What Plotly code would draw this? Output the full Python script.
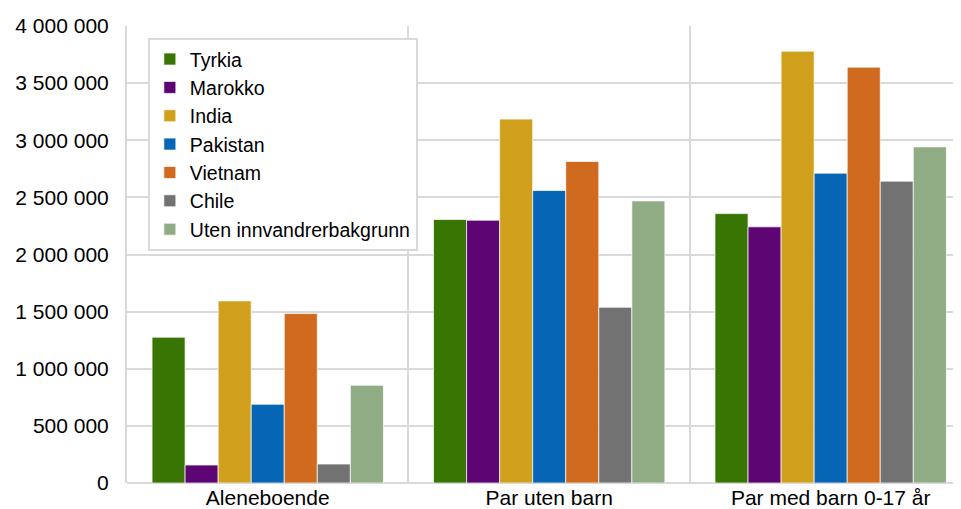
import plotly.graph_objects as go

categories = ["Aleneboende", "Par uten barn", "Par med barn 0-17 år"]
series_names = ["Tyrkia", "Marokko", "India", "Pakistan", "Vietnam", "Chile", "Uten innvandrerbakgrunn"]
tyrkia = [1276000, 2306000, 2358000]
marokko = [157000, 2300000, 2242000]
india = [1594000, 3185000, 3780000]
pakistan = [689000, 2560000, 2712000]
vietnam = [1483000, 2814000, 3640000]
chile = [166000, 1538000, 2642000]
uten = [855000, 2469000, 2942000]
values = [tyrkia, marokko, india, pakistan, vietnam, chile, uten]
colors = ["#387503", "#5c0573", "#d0a01c", "#0666b5", "#d06a1f", "#727272", "#8fac84"]
y_ticks = [0, 500000, 1000000, 1500000, 2000000, 2500000, 3000000, 3500000, 4000000]

fig = go.Figure()
for name, vals, col in zip(series_names, values, colors):
    fig.add_trace(go.Bar(
        x=categories, y=vals, name=name,
        marker=dict(color=col, line=dict(color="rgba(255,255,255,0.7)", width=1)),
    ))

font_family = "Liberation Sans, Arial, sans-serif"
# page body has an 8px default margin, so the figure is sized/offset to compensate
fig.update_layout(
    width=953, height=501,
    margin=dict(l=119, r=0, t=18, b=26),
    paper_bgcolor="white", plot_bgcolor="white",
    barmode="group", bargap=0.178, bargroupgap=0,
    separators=", ",
    font=dict(family=font_family, size=21, color="#000000"),
    legend=dict(
        x=0.025, y=0.974, xanchor="left", yanchor="top",
        bgcolor="white", bordercolor="#d9d9d9", borderwidth=2,
        font=dict(size=19.5), itemwidth=30, tracegroupgap=0,
    ),
    xaxis=dict(
        type="category", range=[-0.5, 2.463], tickson="boundaries",
        showgrid=True, gridcolor="#d9d9d9", gridwidth=2,
        showline=False, ticks="", ticklabelstandoff=0,
        tickfont=dict(size=21),
    ),
    yaxis=dict(
        range=[0, 4000000], tickvals=y_ticks, tickformat=",d",
        showgrid=True, gridcolor="#d9d9d9", gridwidth=2,
        zeroline=True, zerolinecolor="#d9d9d9", zerolinewidth=2,
        showline=True, linecolor="#d9d9d9", linewidth=2,
        ticks="", ticklabelstandoff=12, tickfont=dict(size=21),
    ),
)

fig.write_html("out.html")
